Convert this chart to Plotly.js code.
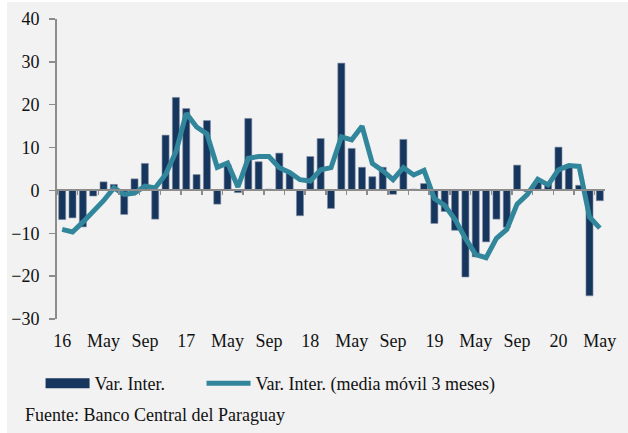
<!DOCTYPE html>
<html>
<head>
<meta charset="utf-8">
<script src="https://cdn.plot.ly/plotly-3.0.1.min.js"></script>
<style>
  html, body { margin: 0; padding: 0; background: #ffffff; }
  #chart { position: absolute; left: 7px; top: 2px; width: 621px; height: 431px; }
</style>
</head>
<body>
<div id="chart"></div>
<script>
// Months Jan 2016 .. May 2020
const months = [
  "2016-01","2016-02","2016-03","2016-04","2016-05","2016-06","2016-07","2016-08","2016-09","2016-10","2016-11","2016-12",
  "2017-01","2017-02","2017-03","2017-04","2017-05","2017-06","2017-07","2017-08","2017-09","2017-10","2017-11","2017-12",
  "2018-01","2018-02","2018-03","2018-04","2018-05","2018-06","2018-07","2018-08","2018-09","2018-10","2018-11","2018-12",
  "2019-01","2019-02","2019-03","2019-04","2019-05","2019-06","2019-07","2019-08","2019-09","2019-10","2019-11","2019-12",
  "2020-01","2020-02","2020-03","2020-04","2020-05"
];

// Var. Inter. (bars)
const varInter = [
  -6.8, -6.4, -8.5, -1.3, 2.0, 1.4, -5.6, 2.7, 6.3, -6.7, 12.9, 21.7,
  19.1, 3.7, 16.3, -3.2, 6.0, -0.5, 16.8, 6.7, 0.3, 8.7, 4.1, -5.9,
  7.9, 12.1, -4.2, 29.7, 9.8, 5.4, 3.2, 5.4, -0.9, 11.9, 0.3, 1.6,
  -7.7, -4.9, -9.3, -20.2, -15.5, -12.0, -6.7, -8.6, 5.9, -0.3, 2.2, 1.8,
  10.1, 5.5, 1.2, -24.6, -2.4
];

// Var. Inter. (media móvil 3 meses) (line)
const mediaMovil = [
  -9.1, -9.7, -7.4, -5.0, -2.4, 0.6, -0.9, -0.6, 1.0, 0.6, 3.7, 9.0,
  18.0, 14.8, 13.2, 5.4, 6.4, 0.8, 7.5, 7.9, 7.9, 5.3, 4.2, 2.5,
  2.2, 4.8, 5.3, 12.5, 11.8, 15.0, 6.3, 4.6, 2.5, 5.3, 3.6, 4.7,
  -1.9, -3.5, -6.8, -11.2, -15.0, -15.7, -11.2, -9.1, -3.2, -0.9, 2.6, 1.3,
  4.8, 5.8, 5.6, -6.2, -8.8
];

const tickVals = ["2016-01","2016-05","2016-09","2017-01","2017-05","2017-09","2018-01","2018-05","2018-09","2019-01","2019-05","2019-09","2020-01","2020-05"];
const tickText = ["16","May","Sep","17","May","Sep","18","May","Sep","19","May","Sep","20","May"];

const yTicks = [-30, -20, -10, 0, 10, 20, 30, 40];

const seriesNames = ["Var. Inter.", "Var. Inter. (media móvil 3 meses)"];
const sourceText = "Fuente: Banco Central del Paraguay";

const NAVY = "#17365d";
const TEAL = "#31869b";
const GRAY = "#8c8c8c";
const FONT = "'Liberation Serif', 'DejaVu Serif', serif";
const PAD = "\u00a0\u00a0\u00a0\u00a0\u00a0\u00a0\u00a0";

const traces = [
  {
    type: "bar",
    x: months,
    y: varInter,
    name: seriesNames[0],
    marker: { color: NAVY, line: { color: "#7d8ca3", width: 0.6 } },
    showlegend: false,
    hoverinfo: "x+y"
  },
  {
    // legend proxy for the bar series (wide rectangle swatch)
    type: "scatter",
    mode: "lines",
    x: [null],
    y: [null],
    name: seriesNames[0] + PAD,
    line: { color: NAVY, width: 12 },
    showlegend: true,
    hoverinfo: "skip"
  },
  {
    type: "scatter",
    mode: "lines",
    x: months,
    y: mediaMovil,
    xaxis: "x2",
    name: seriesNames[1],
    line: { color: TEAL, width: 5 },
    hoverinfo: "x+y"
  }
];

const layout = {
  width: 621,
  height: 431,
  margin: { l: 50, r: 23, t: 17, b: 114 },
  paper_bgcolor: "#f2f2f2",
  plot_bgcolor: "#f2f2f2",
  font: { family: FONT, size: 18, color: "#111111" },
  bargap: 0.32,
  showlegend: true,
  xaxis: {
    type: "category",
    categoryorder: "array",
    categoryarray: months,
    range: [-0.5, months.length - 0.5],
    tickmode: "array",
    tickvals: tickVals,
    ticktext: tickText,
    ticks: "",
    showline: false,
    showgrid: false,
    zeroline: false,
    ticklabelstandoff: 9,
    tickfont: { family: FONT, size: 18, color: "#111111" }
  },
  xaxis2: {
    type: "category",
    categoryorder: "array",
    categoryarray: months,
    range: [-0.5, months.length - 0.5],
    overlaying: "x",
    anchor: "free",
    position: 30 / 70,
    side: "bottom",
    showline: true,
    linecolor: GRAY,
    linewidth: 2,
    ticks: "outside",
    tickson: "boundaries",
    ticklen: 4,
    tickwidth: 1.5,
    tickcolor: GRAY,
    showticklabels: false,
    showgrid: false,
    zeroline: false
  },
  yaxis: {
    range: [-30, 40],
    tickmode: "array",
    tickvals: yTicks,
    ticks: "outside",
    ticklen: 6,
    tickwidth: 1.5,
    tickcolor: GRAY,
    showline: true,
    linecolor: GRAY,
    linewidth: 2,
    showgrid: false,
    zeroline: false,
    ticklabelstandoff: 6,
    tickfont: { family: FONT, size: 18, color: "#111111" }
  },
  legend: {
    orientation: "h",
    x: -0.03,
    xanchor: "left",
    y: -0.215,
    yanchor: "middle",
    itemwidth: 44,
    bgcolor: "rgba(0,0,0,0)",
    font: { family: FONT, size: 18, color: "#111111" },
    traceorder: "normal"
  },
  annotations: [
    {
      text: sourceText,
      xref: "paper",
      yref: "paper",
      x: -0.062,
      xanchor: "left",
      y: -0.32,
      yanchor: "middle",
      showarrow: false,
      font: { family: FONT, size: 18, color: "#111111" }
    }
  ]
};

Plotly.newPlot("chart", traces, layout, { displayModeBar: false, staticPlot: true });
</script>
</body>
</html>
